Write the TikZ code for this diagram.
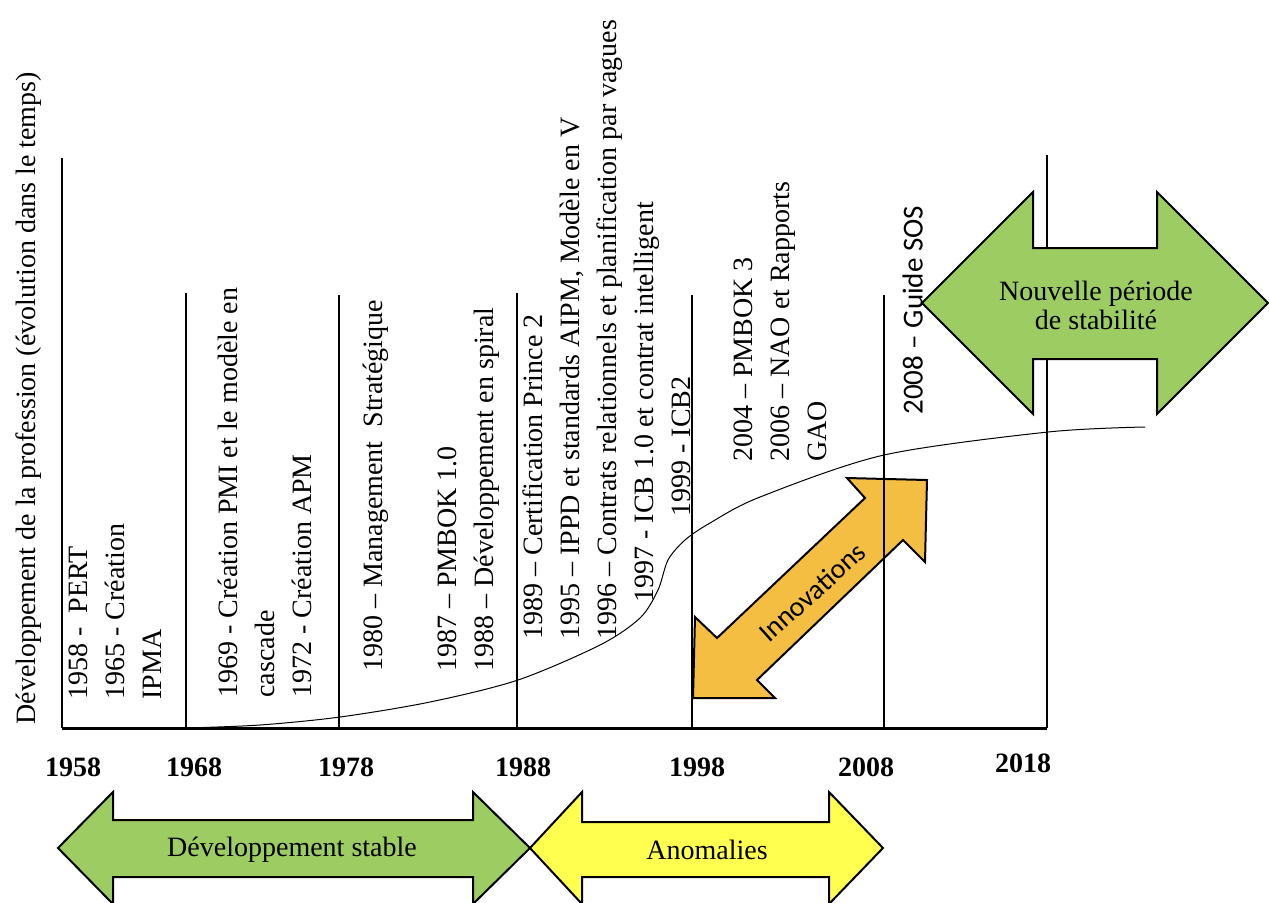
\documentclass[tikz,border=0pt]{standalone}
\usepackage{fontspec}
\setmainfont{Liberation Serif}
\newfontfamily\calibrifont{Carlito}
\usetikzlibrary{positioning}
\definecolor{stablegreen}{RGB}{157,205,98}
\definecolor{anomalyyellow}{RGB}{255,255,80}
\definecolor{innovorange}{RGB}{243,190,66}

\begin{document}
\begin{tikzpicture} [x=0.5pt, y=-0.5pt,
    timeline/.style={line width=1.2pt},
    yearlabel/.style={font=\fontsize{14}{16}\selectfont\bfseries, inner sep=0pt},
    events/.style={rotate=90, anchor=north west, align=left, inner sep=0pt,
                   font=\fontsize{14}{18.5}\selectfont},
    period/.style={draw=black, line width=1pt, line join=miter},
    periodlabel/.style={font=\fontsize{14}{14.5}\selectfont, align=center}
]
    \useasboundingbox (0,0) rectangle (1269,902);

    % innovations (under the time lines)
    \draw[period, fill=innovorange] (693,698) -- (695,617) -- (717,638) -- (865,498)
        -- (847,478) -- (927,480) -- (925,562) -- (903,540) -- (757,680) -- (775,698) -- cycle;
    \node[rotate=42, font=\calibrifont\fontsize{14}{16}\selectfont] (innovations) at (812,592) {Innovations};

    % time axis
    \draw[line width=1.5pt] (62,728) -- (1047,728);
    \foreach \xpos/\ytop in {62/158, 186/293, 339/295, 517/293, 692/295, 884/295, 1047/155}
        \draw[timeline] (\xpos,728) -- (\xpos,\ytop);
    \foreach \xpos/\ypos/\yr in {73/767/1958, 194/767/1968, 346/767/1978, 523/767/1988,
                                 697/767/1998, 866/767/2008, 1023/763/2018}
        \node[yearlabel] (year \yr) at (\xpos,\ypos) {\yr};

    % growth curve
    \draw[line width=0.5pt] plot[smooth, tension=0.5] coordinates {(186,728) (260,725) (340,717)
        (430,702) (518,680) (600,645) (640,618) (658,590) (668,560) (685,540) (710,523)
        (760,497) (884,455) (1048,432) (1145,427)};

    % events
    \node[rotate=90, anchor=base west, inner sep=0pt, font=\fontsize{14}{16}\selectfont]
        (profession) at (35,725) {Développement de la profession (évolution dans le temps)};
    \node[events] (events 1958) at (68,700) {1958 -\ \ PERT\\1965 - Création\\IPMA};
    \node[events] (events 1968) at (218,698) {1969 - Création PMI et le modèle en\\cascade\\1972 - Création APM};
    \node[events] (events 1978) at (363,672) {1980 – Management\ \ Stratégique\\[18.5pt]1987 – PMBOK 1.0\\1988 – Développement en spiral};
    \node[events] (events 1988) at (522,640) {1989 – Certification Prince 2\\1995 – IPPD et standards AIPM, Modèle en V\\1996 – Contrats relationnels et planification par vagues\\\hspace*{18.5pt}1997 - ICB 1.0 et contrat intelligent\\\hspace*{61.5pt}1999 - ICB2};
    \node[events] (events 1998) at (733,462) {2004 – PMBOK 3\\2006 – NAO et Rapports\\GAO};
    \node[events, font=\calibrifont\fontsize{14.5}{16}\selectfont] (events 2008) at (902,415) {2008 – Guide SOS};

    % periods
    \draw[period, fill=stablegreen] (58,848) -- (113,792) -- (113,820) -- (473,820) -- (473,792)
        -- (530,848) -- (473,904) -- (473,877) -- (113,877) -- (113,904) -- cycle;
    \node[periodlabel] (stable) at (292,850) {Développement stable};
    \draw[period, fill=anomalyyellow] (530,848) -- (582,792) -- (582,822) -- (829,822) -- (829,792)
        -- (883,848) -- (829,904) -- (829,877) -- (582,877) -- (582,904) -- cycle;
    \node[periodlabel] (anomalies) at (707,850) {Anomalies};
    \draw[period, fill=stablegreen] (922,303) -- (1033,192) -- (1033,248) -- (1157,248) -- (1157,192)
        -- (1268,303) -- (1157,414) -- (1157,359) -- (1033,359) -- (1033,414) -- cycle;
    \node[periodlabel] (new stability) at (1096,305) {Nouvelle période\\de stabilité};
\end{tikzpicture}
\end{document}
